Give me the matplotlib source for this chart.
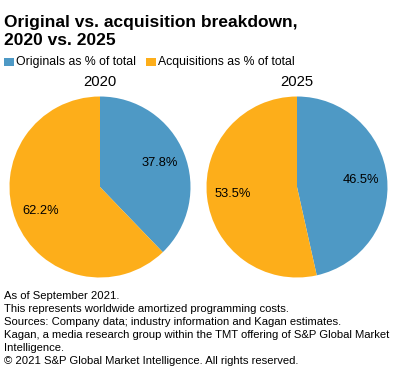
import matplotlib.pyplot as plt

plt.rcParams['font.family'] = ['Liberation Sans', 'DejaVu Sans']

years = ['2020', '2025']
labels = ['Originals as % of total', 'Acquisitions as % of total']
originals = [37.8, 46.5]
acquisitions = [62.2, 53.5]
colors = ['#4e99c5', '#fdae1a']

notes = ['As of September 2021.',
         'This represents worldwide amortized programming costs.',
         'Sources: Company data; industry information and Kagan estimates.',
         'Kagan, a media research group within the TMT offering of S&P Global Market',
         'Intelligence.',
         '\u00a9 2021 S&P Global Market Intelligence. All rights reserved.']

W, H = 396, 378
fig = plt.figure(figsize=(W / 100, H / 100), dpi=100)

def px(x, y):
    return x / W, 1 - y / H

fig.text(*px(4, 27), 'Original vs. acquisition breakdown,', fontsize=12.5,
         fontweight='bold', va='baseline', ha='left')
fig.text(*px(4, 45), '2020 vs. 2025', fontsize=12.5,
         fontweight='bold', va='baseline', ha='left')

# legend
for lx, lab, c in zip([4, 146], labels, colors):
    fig.patches.append(plt.Rectangle(px(lx, 66), 10 / W, 8.5 / H,
                                     transform=fig.transFigure, color=c, lw=0))
    fig.text(*px(lx + 12, 62), lab, fontsize=8.8, va='center', ha='left')

centers = [100, 297]
r = 90.5
for i, yr in enumerate(years):
    cx, cy = centers[i], 187
    ax = fig.add_axes([(cx - r) / W, 1 - (cy + r) / H, 2 * r / W, 2 * r / H])
    vals = [originals[i], acquisitions[i]]
    ax.pie(vals, colors=colors, startangle=90, counterclock=False,
           autopct='%.1f%%', pctdistance=0.71,
           wedgeprops={'linewidth': 0}, textprops={'fontsize': 9.3})
    ax.set_xlim(-1, 1)
    ax.set_ylim(-1, 1)
    ax.set_aspect('equal')
    ax.axis('off')
    fig.text(*px(cx, 82), yr, fontsize=10.7, ha='center', va='center')

for k, line in enumerate(notes):
    fig.text(*px(4, 296 + 13 * k), line, fontsize=8.1, va='center', ha='left')

fig.savefig('out.png', dpi=100)
